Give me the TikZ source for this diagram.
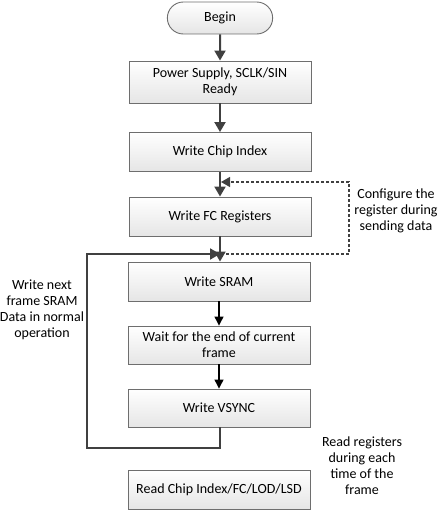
\documentclass[tikz,border=0pt]{standalone}
\usepackage{fontspec}
\setmainfont{Carlito}
\usetikzlibrary{arrows.meta,shapes.misc}
\definecolor{arr}{HTML}{404040}
\definecolor{bord}{HTML}{6E6E6E}
\tikzset{
  box/.style={rectangle,draw=bord,line width=0.9pt,top color=white,bottom color=black!10,
    minimum width=182pt,minimum height=39pt,align=center,inner sep=2pt,font=\fontsize{14}{16}\selectfont},
  startbox/.style={rounded rectangle,draw=bord,line width=0.9pt,top color=white,bottom color=black!10,
    minimum width=112pt,minimum height=32pt,font=\fontsize{14}{16}\selectfont},
  flow/.style={draw=arr,line width=2pt,-{Triangle[length=10pt,width=11pt]}},
  thinflow/.style={draw=black,line width=1.2pt,-{Triangle[length=9pt,width=9pt]}},
  loopline/.style={draw=arr,line width=2pt},
  dashline/.style={draw=arr,line width=1.2pt,dashed,dash pattern=on 3pt off 2pt},
  lbl/.style={align=center,font=\fontsize{14}{16}\selectfont}
}
\begin{document}
\begin{tikzpicture}[x=1pt,y=-1pt]
\useasboundingbox (0,0) rectangle (445,510);
\node[startbox] (begin) at (220,18) {Begin};
\node[box,minimum height=42pt] (power) at (220,82) {Power Supply, SCLK/SIN\\Ready};
\node[box] (chip) at (220,152) {Write Chip Index};
\node[box] (fc) at (220,216.5) {Write FC Registers};
\node[box] (sram) at (219,281.5) {Write SRAM};
\node[box,minimum height=38pt] (wait) at (219,345) {Wait for the end of current\\frame};
\node[box,minimum height=38pt] (vsync) at (219,408) {Write VSYNC};
\node[box] (read) at (219,489.5) {Read Chip Index/FC/LOD/LSD};
\coordinate (j1) at (220,182);
\coordinate (j2) at (220,254);
\coordinate (dr) at (349,218);
\coordinate (lb) at (87,448);
\node[lbl] (cfg) at (396,211) {Configure the\\register during\\sending data};
\node[lbl] (wn) at (42,310) {Write next\\frame SRAM\\Data in normal\\operation};
\node[lbl] (rr) at (362,466) {Read registers\\during each\\time of the\\frame};
\draw[flow] (begin) -- (power);
\draw[flow] (power) -- (chip);
\draw[flow] (chip) -- (fc);
\draw[flow] (fc.south -| j2) -- (sram.north -| j2);
\draw[thinflow] (sram) -- (wait);
\draw[thinflow] (wait) -- (vsync);
\draw[dashline,-{Triangle[length=9pt,width=10pt]}] ([xshift=1pt]j2) -| (dr) |- ([xshift=1pt]j1);
\draw[loopline,-{Triangle[length=10pt,width=11pt]}] (vsync.south -| j2) |- (lb) |- (j2);
\end{tikzpicture}
\end{document}
